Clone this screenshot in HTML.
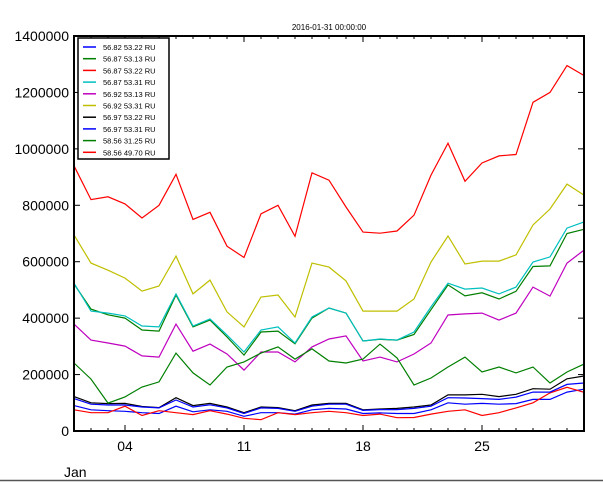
<!DOCTYPE html>
<html><head><meta charset="utf-8"><style>
body{margin:0;background:#fff;}
svg{display:block;font-family:"Liberation Sans","DejaVu Sans",sans-serif;}
</style></head><body>
<svg id="chart" width="603" height="482" viewBox="0 0 603 482">
<rect x="0" y="0" width="603" height="482" fill="#fff"/>
<text x="329" y="30" font-size="8" text-anchor="middle">2016-01-31 00:00:00</text>
<g id="series"></g>
<g id="axes"></g>
<g id="legend"></g>
<text x="64" y="477" font-size="14">Jan</text>
<line x1="0" y1="480.5" x2="603" y2="480.5" stroke="#555" stroke-width="1.5"/>
</svg>
<script>
const days = Array.from({length:31},(_,i)=>i+1);
const seriesNames = ["56.82 53.22 RU","56.87 53.13 RU","56.87 53.22 RU","56.87 53.31 RU","56.92 53.13 RU","56.92 53.31 RU","56.97 53.22 RU","56.97 53.31 RU","58.56 31.25 RU","58.56 49.70 RU"];
const seriesColors = ["#0000ff","#007f00","#ff0000","#00bfbf","#bf00bf","#bfbf00","#000000","#0000ff","#007f00","#ff0000"];
const s0 = [90,75,72,70,65,62,88,68,75,70,52,65,65,60,75,80,78,62,64,62,62,75,100,95,98,95,97,112,112,138,148];
const s1 = [521,432,412,400,358,354,482,369,393,333,269,351,354,309,400,436,418,319,325,322,342,430,518,479,490,468,495,583,585,700,715];
const s2 = [75,65,65,88,55,72,65,58,72,60,45,40,65,58,65,70,65,55,60,47,48,60,70,75,55,65,82,100,135,155,137];
const s3 = [524,425,418,408,372,369,486,372,397,340,280,358,369,312,404,436,418,319,326,322,351,440,524,503,507,486,510,599,617,719,741];
const s4 = [379,322,312,301,266,262,379,283,308,273,216,280,280,245,298,326,337,248,262,245,273,312,411,415,418,393,418,510,478,595,641];
const s5 = [695,595,570,542,496,514,620,486,535,422,369,475,482,404,595,581,532,425,425,425,468,599,691,592,602,602,624,730,787,875,836];
const s6 = [122,100,97,98,87,83,118,90,98,85,65,85,83,72,92,98,98,75,78,80,85,92,128,128,130,122,130,150,148,185,195];
const s7 = [115,95,92,92,85,82,110,85,93,82,62,82,80,70,88,95,95,73,76,76,80,88,118,117,115,112,120,138,138,165,170];
const s8 = [241,184,99,121,156,174,276,206,163,227,245,276,298,255,291,248,241,255,308,259,163,188,227,262,209,227,206,227,170,209,237];
const s9 = [940,820,830,805,755,800,910,750,775,655,615,770,800,690,915,889,794,705,701,709,765,907,1020,885,950,975,980,1165,1200,1295,1260];
const allSeries = [s0,s1,s2,s3,s4,s5,s6,s7,s8,s9];
const yTicks = [0,200000,400000,600000,800000,1000000,1200000,1400000];
const xTickDays = [4,11,18,25];
const xTickLabels = ["04","11","18","25"];

const L=74,R=584,T=36,B=431;
const x = d => L + (d-1)*(R-L)/30;
const y = v => B - v*(B-T)/1400000;
const NS="http://www.w3.org/2000/svg";
function mk(tag,attrs,parent){const e=document.createElementNS(NS,tag);for(const k in attrs)e.setAttribute(k,attrs[k]);parent.appendChild(e);return e;}

const sg=document.getElementById('series');
allSeries.forEach((s,i)=>{
  const pts=s.map((v,j)=>x(days[j]).toFixed(1)+','+y(v*1000).toFixed(1)).join(' ');
  const p=mk('polyline',{points:pts,fill:'none',stroke:seriesColors[i],'stroke-width':1.2},sg);
  
  
});

const ag=document.getElementById('axes');
const frame=mk('rect',{x:L,y:T,width:R-L,height:B-T,fill:'none',stroke:'#000','stroke-width':2},ag);


yTicks.forEach(v=>{
  const yy=y(v);
  mk('line',{x1:L,y1:yy,x2:L+6,y2:yy,stroke:'#000'},ag);
  mk('line',{x1:R,y1:yy,x2:R-6,y2:yy,stroke:'#000'},ag);
  const t=mk('text',{x:L-5,y:yy+5,'font-size':14,'text-anchor':'end'},ag);
  t.textContent=v;
  
  
});
days.forEach(d=>{
  const xx=x(d);
  mk('line',{x1:xx,y1:B,x2:xx,y2:B-3,stroke:'#000'},ag);
  mk('line',{x1:xx,y1:T,x2:xx,y2:T+3,stroke:'#000'},ag);
});
xTickDays.forEach((d,i)=>{
  const xx=x(d);
  mk('line',{x1:xx,y1:B,x2:xx,y2:B-6,stroke:'#000'},ag);
  mk('line',{x1:xx,y1:T,x2:xx,y2:T+6,stroke:'#000'},ag);
  const t=mk('text',{x:xx,y:B+20,'font-size':14,'text-anchor':'middle'},ag);
  t.textContent=xTickLabels[i];
  
  
});

const lg=document.getElementById('legend');
const box=mk('rect',{x:78,y:38,width:91,height:121,fill:'#fff',stroke:'#000','stroke-width':1.5},lg);


seriesNames.forEach((n,i)=>{
  const yy=47+i*11.7;
  const g=mk('g',{},lg);
  
  
  mk('line',{x1:83,y1:yy,x2:96,y2:yy,stroke:seriesColors[i],'stroke-width':1.5},g);
  const t=mk('text',{x:103,y:yy+3,'font-size':7.5},g);
  t.textContent=n;
});
</script>
</body></html>
